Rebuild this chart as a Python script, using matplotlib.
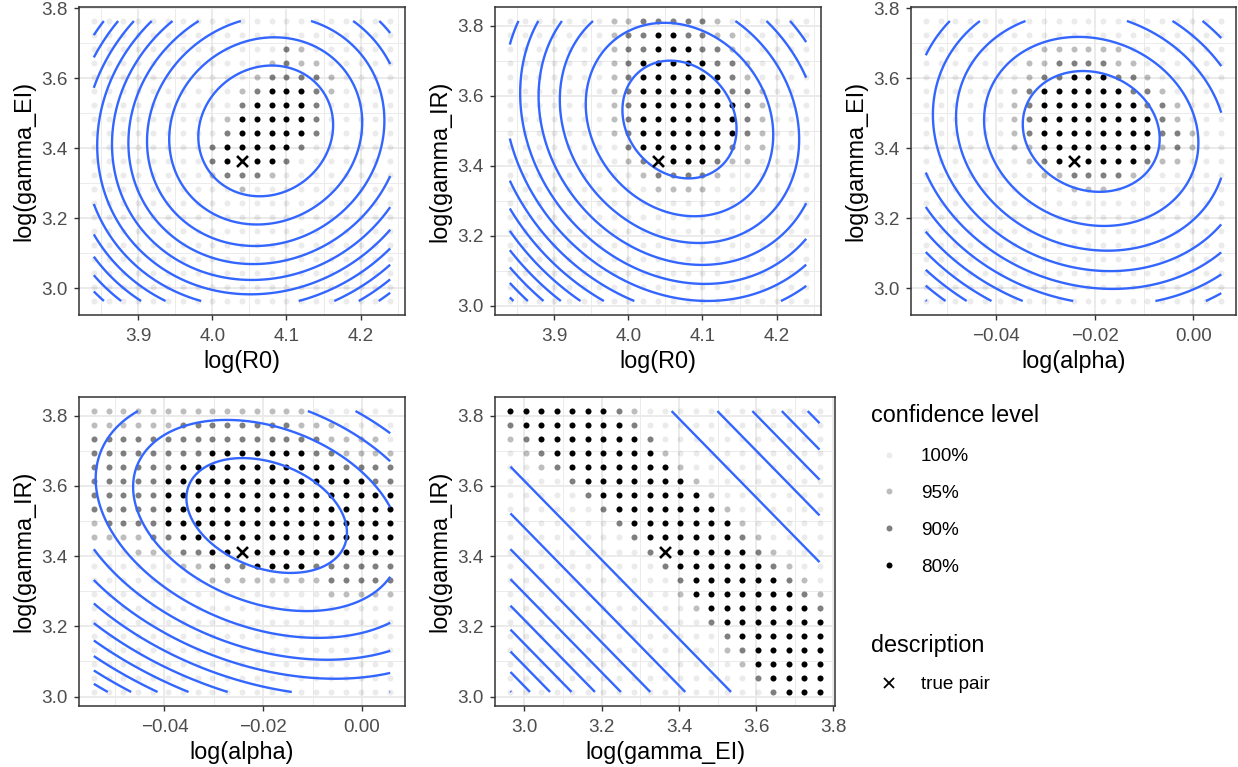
import numpy as np
import matplotlib
matplotlib.use("Agg")
import matplotlib.pyplot as plt
from matplotlib.lines import Line2D
from matplotlib.ticker import FuncFormatter

plt.rcParams['font.family'] = ['Liberation Sans', 'DejaVu Sans']

W, H = 1238, 767

# parameter grids (log scale), 21 values each
log_R0 = [3.84, 3.86, 3.88, 3.90, 3.92, 3.94, 3.96, 3.98, 4.00, 4.02, 4.04,
          4.06, 4.08, 4.10, 4.12, 4.14, 4.16, 4.18, 4.20, 4.22, 4.24]
log_alpha = [-0.0543, -0.0513, -0.0483, -0.0453, -0.0423, -0.0393, -0.0363,
             -0.0333, -0.0303, -0.0273, -0.0243, -0.0213, -0.0183, -0.0153,
             -0.0123, -0.0093, -0.0063, -0.0033, -0.0003, 0.0027, 0.0057]
log_gamma_EI = [2.964, 3.004, 3.044, 3.084, 3.124, 3.164, 3.204, 3.244, 3.284,
                3.324, 3.364, 3.404, 3.444, 3.484, 3.524, 3.564, 3.604, 3.644,
                3.684, 3.724, 3.764]
log_gamma_IR = [3.013, 3.053, 3.093, 3.133, 3.173, 3.213, 3.253, 3.293, 3.333,
                3.373, 3.413, 3.453, 3.493, 3.533, 3.573, 3.613, 3.653, 3.693,
                3.733, 3.773, 3.813]

true_pair = {'log(R0)': 4.04, 'log(alpha)': -0.0243,
             'log(gamma_EI)': 3.364, 'log(gamma_IR)': 3.413}

# confidence level of each grid point
# '.' = 100%, 'o' = 95%, '+' = 90%, '#' = 80%
# (row from top, first column, codes) - rows not listed are all 100%
conf_labels = ['100%', '95%', '90%', '80%']
conf_codes = ['.', 'o', '+', '#']
conf_alpha = [0.08, 0.26, 0.5, 1.0]

conf_R0_EI = [
    (2, 13, "+o"),
    (3, 12, "o+oo"),
    (4, 11, "o++++o"),
    (5, 10, "o+###+o"),
    (6, 10, "+####+"),
    (7, 9, "o#####+"),
    (8, 9, "+#####+"),
    (9, 8, "+#####+"),
    (10, 8, "+#.##+"),
    (11, 8, "o+++o"),
    (12, 10, "o"),
]
conf_R0_IR = [
    (0, 7, "oo+++++o"),
    (1, 7, "o++##++oo"),
    (2, 7, "o++###++o"),
    (3, 7, "o+#####++o"),
    (4, 7, "o+######+o"),
    (5, 7, "o+######++o"),
    (6, 7, "o+#######+o"),
    (7, 7, "o+#######+o"),
    (8, 7, "o+#######+o"),
    (9, 8, "+######+oo"),
    (10, 8, "o+.###+oo"),
    (11, 9, "o++++o"),
    (12, 10, "oooo"),
]
conf_alpha_EI = [
    (2, 8, "oooooo"),
    (3, 7, "oo++++oo"),
    (4, 7, "o++###++o"),
    (5, 6, "o+######++o"),
    (6, 6, "o+#######++o"),
    (7, 6, "o+########+o"),
    (8, 6, "o+########++o"),
    (9, 6, "oo########o+o"),
    (10, 7, "o+#.####+oo"),
    (11, 8, "oo++++o"),
    (12, 10, "ooo"),
]
conf_alpha_IR = [
    (0, 0, "o" * 15),
    (1, 0, "o" * 6 + "+" * 8 + "o" * 3),
    (2, 0, "+" * 16 + "o" * 4),
    (3, 0, "+" * 8 + "#" * 7 + "++" + "o" * 4),
    (4, 0, "+" * 6 + "#" * 11 + "+" * 4),
    (5, 0, "+" * 5 + "#" * 14 + "++"),
    (6, 0, "+" * 5 + "#" * 16),
    (7, 0, "+" * 5 + "#" * 16),
    (8, 0, "o" + "+" * 4 + "#" * 16),
    (9, 0, "o" * 4 + "++" + "#" * 15),
    (10, 3, "ooo++##." + "#" * 10),
    (11, 6, "oo+++####" + "+" * 6),
    (12, 8, "o" * 8 + "+" * 5),
    (13, 16, "o" * 5),
]
conf_EI_IR = [
    (0, 0, "#" * 7 + "+o"),
    (1, 0, "+" + "#" * 7 + "+"),
    (2, 0, "o+" + "#" * 7 + "+"),
    (3, 1, "o+" + "#" * 7 + "o"),
    (4, 2, "o+" + "#" * 7 + "o"),
    (5, 4, "+" + "#" * 7 + "o"),
    (6, 5, "+" + "#" * 7 + "o"),
    (7, 6, "+" + "#" * 7 + "o"),
    (8, 7, "+" + "#" * 7 + "o"),
    (9, 8, "+" + "#" * 6 + "+o"),
    (10, 9, "+." + "#" * 5 + "+o"),
    (11, 10, "+" + "#" * 6 + "+o"),
    (12, 11, "+" + "#" * 6 + "+o"),
    (13, 11, "o" + "#" * 7 + "+o"),
    (14, 12, "o" + "#" * 7 + "+"),
    (15, 13, "+" + "#" * 7),
    (16, 14, "+" + "#" * 6),
    (17, 14, "o+" + "#" * 5),
    (18, 15, "o" + "#" * 5),
    (19, 16, "+" + "#" * 4),
    (20, 17, "+" + "#" * 3),
]

# quadratic objective surface per pair: centre, scale, correlation, contour levels
surf_R0_EI = dict(center=(4.072, 3.45), scale=(0.0906, 0.186), corr=-0.09,
                  levels=[1.0, 2.05, 3.1, 4.15, 5.2, 6.25, 7.3, 8.35, 9.4, 10.45, 11.5, 12.55])
surf_R0_IR = dict(center=(4.069, 3.5315), scale=(0.076, 0.166), corr=0.16,
                  levels=[1.0, 2.7, 4.4, 6.1, 7.8, 9.5, 11.2, 12.9, 14.6, 16.3, 18.0, 19.7, 21.4])
surf_alpha_EI = dict(center=(-0.0207, 3.4485), scale=(0.0138, 0.1713), corr=0.12,
                     levels=[1.0, 2.45, 3.9, 5.35, 6.8, 8.25, 9.7, 11.15, 12.6, 14.05, 15.5])
surf_alpha_IR = dict(center=(-0.0193, 3.5155), scale=(0.0155, 0.156), corr=0.3,
                     levels=[1.0, 2.77, 4.54, 6.31, 8.08, 9.85, 11.62, 13.39, 15.16, 16.93, 18.7])
surf_EI_IR = dict(center=(3.458, 3.413), scale=(0.279, 0.3135), corr=1.0,
                  levels=[1.0, 2.03, 3.06, 4.09, 5.12, 6.15, 7.18, 8.21, 9.24])

gamma_ticks = [3.0, 3.2, 3.4, 3.6, 3.8]
panels = [
    dict(x='log(R0)', y='log(gamma_EI)', xg=log_R0, yg=log_gamma_EI, conf=conf_R0_EI,
         surf=surf_R0_EI, xticks=[3.9, 4.0, 4.1, 4.2], xfmt='%.1f', box=(79, 7, 405, 315)),
    dict(x='log(R0)', y='log(gamma_IR)', xg=log_R0, yg=log_gamma_IR, conf=conf_R0_IR,
         surf=surf_R0_IR, xticks=[3.9, 4.0, 4.1, 4.2], xfmt='%.1f', box=(495, 7, 821, 315)),
    dict(x='log(alpha)', y='log(gamma_EI)', xg=log_alpha, yg=log_gamma_EI, conf=conf_alpha_EI,
         surf=surf_alpha_EI, xticks=[-0.04, -0.02, 0.0], xfmt='%.2f', box=(911, 7, 1236, 315)),
    dict(x='log(alpha)', y='log(gamma_IR)', xg=log_alpha, yg=log_gamma_IR, conf=conf_alpha_IR,
         surf=surf_alpha_IR, xticks=[-0.04, -0.02, 0.0], xfmt='%.2f', box=(79, 397, 405, 706)),
    dict(x='log(gamma_EI)', y='log(gamma_IR)', xg=log_gamma_EI, yg=log_gamma_IR, conf=conf_EI_IR,
         surf=surf_EI_IR, xticks=gamma_ticks, xfmt='%.1f', box=(495, 397, 835, 706)),
]

BLUE = '#3366FF'
GRID = '#EBEBEB'
TICK_FS = 13.6
TITLE_FS = 16.8


def conf_matrix(spec):
    codes = np.full((21, 21), '.', dtype='<U1')
    for row, col0, pat in spec:
        for i, ch in enumerate(pat):
            codes[row, col0 + i] = ch
    return codes


def minor_ticks(major, lo, hi):
    d = major[1] - major[0]
    cand = [t - d / 2 for t in major] + [major[-1] + d / 2]
    return [t for t in cand if lo <= t <= hi]


fig = plt.figure(figsize=(W / 100, H / 100), dpi=100)
fig.patch.set_facecolor('white')

for p in panels:
    x0, y0, x1, y1 = p['box']
    ax = fig.add_axes([x0 / W, 1 - y1 / H, (x1 - x0) / W, (y1 - y0) / H])
    xg = np.asarray(p['xg'])
    yg = np.asarray(p['yg'])

    # grid points coloured by confidence level
    X, Y = np.meshgrid(xg, yg[::-1])
    codes = conf_matrix(p['conf'])
    for code, a in zip(conf_codes, conf_alpha):
        m = codes == code
        ax.scatter(X[m], Y[m], s=19, color='black', alpha=a, linewidths=0, zorder=2)

    # contour lines of the objective surface
    s = p['surf']
    xs = np.linspace(xg.min(), xg.max(), 400)
    ys = np.linspace(yg.min(), yg.max(), 400)
    XX, YY = np.meshgrid(xs, ys)
    u = (XX - s['center'][0]) / s['scale'][0]
    v = (YY - s['center'][1]) / s['scale'][1]
    Z = u ** 2 + 2 * s['corr'] * u * v + v ** 2
    ax.contour(XX, YY, Z, levels=s['levels'], colors=BLUE, linewidths=1.7, zorder=3)

    ax.scatter([true_pair[p['x']]], [true_pair[p['y']]], marker='x', s=62,
               color='black', linewidths=1.9, zorder=4)

    xr = xg.max() - xg.min()
    yr = yg.max() - yg.min()
    xlo, xhi = xg.min() - 0.05 * xr, xg.max() + 0.05 * xr
    ylo, yhi = yg.min() - 0.05 * yr, yg.max() + 0.05 * yr
    ax.set_xlim(xlo, xhi)
    ax.set_ylim(ylo, yhi)

    ax.set_xticks(p['xticks'])
    ax.set_yticks(gamma_ticks)
    ax.set_xticks(minor_ticks(p['xticks'], xlo, xhi), minor=True)
    ax.set_yticks(minor_ticks(gamma_ticks, ylo, yhi), minor=True)
    fmt = p['xfmt']
    ax.xaxis.set_major_formatter(FuncFormatter(lambda val, pos, f=fmt: (f % val).replace('-', '\u2212')))
    ax.yaxis.set_major_formatter(FuncFormatter(lambda val, pos: '%.1f' % val))

    ax.set_axisbelow(True)
    ax.grid(which='major', color=GRID, linewidth=1.4, zorder=0)
    ax.grid(which='minor', color=GRID, linewidth=0.7, zorder=0)
    ax.tick_params(which='major', length=3.8, width=1.0, color='#333333',
                   labelcolor='#4D4D4D', labelsize=TICK_FS)
    ax.tick_params(axis='x', which='major', pad=5.5)
    ax.tick_params(axis='y', which='major', pad=4.2)
    ax.tick_params(which='minor', length=0)
    for sp in ax.spines.values():
        sp.set_color('#333333')
        sp.set_linewidth(1.1)
    ax.set_xlabel(p['x'], fontsize=TITLE_FS, color='black', labelpad=3.5)
    ax.set_ylabel(p['y'], fontsize=TITLE_FS, color='black', labelpad=4)

# legends: titles as text, keys through the legend machinery
fig.text(871 / W, 1 - 421.5 / H, 'confidence level', fontsize=TITLE_FS,
         ha='left', va='baseline')
conf_handles = [Line2D([], [], ls='none', marker='o', ms=4.3, mew=0, mfc='black', alpha=a)
                for a in conf_alpha]
fig.legend(conf_handles, conf_labels, loc='upper left',
           bbox_to_anchor=(871 / W, 1 - 448 / H), frameon=False, fontsize=TICK_FS,
           labelspacing=1.04, handlelength=1.9, handletextpad=0.75,
           borderpad=0, borderaxespad=0)

fig.text(871 / W, 1 - 652 / H, 'description', fontsize=TITLE_FS,
         ha='left', va='baseline')
true_handle = Line2D([], [], ls='none', marker='x', ms=7, mew=1.3, color='black')
fig.legend([true_handle], ['true pair'], loc='upper left',
           bbox_to_anchor=(871 / W, 1 - 676 / H), frameon=False, fontsize=TICK_FS,
           labelspacing=1.04, handlelength=1.9, handletextpad=0.75,
           borderpad=0, borderaxespad=0)

fig.savefig('out.png', dpi=100, facecolor='white')
